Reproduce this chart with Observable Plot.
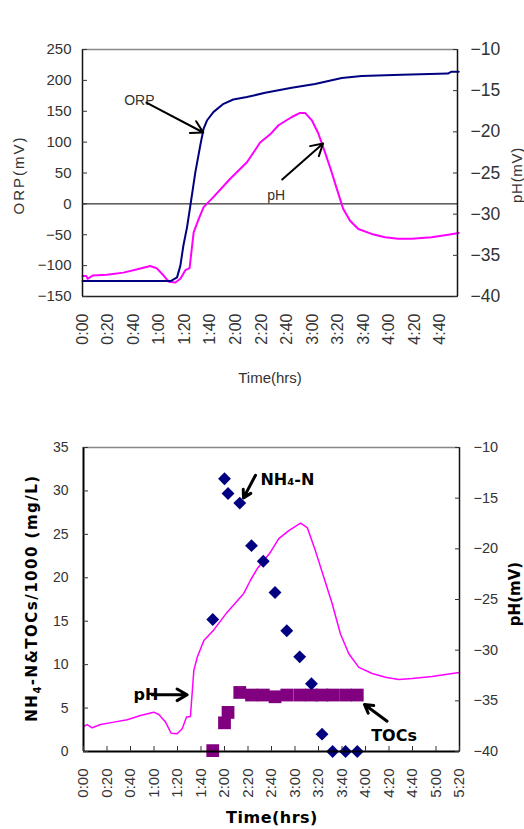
<!DOCTYPE html>
<html>
<head>
<meta charset="utf-8">
<script src="https://cdn.jsdelivr.net/npm/d3@7"></script>
<script src="https://cdn.jsdelivr.net/npm/@observablehq/plot@0.6"></script>
<style>
  body { margin: 0; background: white; }
  #wrap { position: relative; width: 524px; height: 829px; background: white; overflow: hidden; }
  .abs { position: absolute; white-space: nowrap; }
  .rot { transform: translate(-50%, -50%) rotate(-90deg); }
  .ctr { transform: translate(-50%, -50%); }
  .sans { font-family: "Liberation Sans", Arial, sans-serif; color: #333; }
  .bold { font-family: "DejaVu Sans", sans-serif; font-weight: bold; color: #000; }
</style>
</head>
<body>
<div id="wrap">
  <div class="abs sans" style="left:87px; top:4px; font-size:15px; color:#444;">Intial TOC conc : 6540mg/L</div>
  <div id="c1" class="abs" style="left:0; top:0;"></div>
  <div id="c2" class="abs" style="left:0; top:400px;"></div>
  <div class="abs sans rot" style="left:18px; top:175px; font-size:15px; letter-spacing:2px;">ORP(mV)</div>
  <div class="abs sans rot" style="left:516px; top:175px; font-size:15px; letter-spacing:0.7px;">pH(mV)</div>
  <div class="abs sans ctr" style="left:270px; top:377px; font-size:15px;">Time(hrs)</div>
  <div class="abs bold rot" style="left:33px; top:598px; font-size:15px; letter-spacing:1.5px;">NH<sub style="font-size:10px;">4</sub>-N&amp;TOCs/1000 (mg/L)</div>
  <div class="abs bold rot" style="left:515px; top:594px; font-size:15px;">pH(mV)</div>
  <div class="abs bold ctr" style="left:272px; top:817px; font-size:16px; letter-spacing:0.5px;">Time(hrs)</div>
</div>
<script>
// ---------- Top chart data ----------
const orpTime  = [0, 69, 74, 76.6, 79, 81.8, 84.4, 88.3, 92.2, 94.8, 97.4, 102.6, 110.4, 118, 128.7, 143, 163.8, 182, 202.9, 218.5, 249.8, 286, 288.8, 294.5];
const orpValue = [-125, -125, -119, -100, -67, -38, -3, 51, 95, 122, 135, 149, 162, 169, 173, 180, 188, 194, 204, 207, 209, 211, 214, 214];

const phTopTime  = [0, 3, 4, 8, 19, 32, 43, 53, 58, 63.5, 67.4, 72.7, 76.6, 80.5, 83.8, 87, 90.9, 94.8, 102.6, 115.6, 128.7, 139, 146.9, 153.4, 163.8, 170.3, 174.2, 179.5, 184.6, 189.8, 195, 199, 204, 209.4, 215.9, 226.3, 236.7, 247.1, 257.6, 273.2, 286.2, 294.5];
const phTopValue = [-37.5, -37.5, -37.85, -37.45, -37.36, -37.1, -36.7, -36.3, -36.56, -37.45, -38.2, -38.3, -37.85, -36.8, -36.56, -32.2, -30.6, -29.15, -27.9, -25.7, -23.7, -21.3, -20.3, -19.2, -18.2, -17.7, -17.7, -18.6, -20.2, -22.5, -24.9, -26.9, -29.35, -30.8, -31.8, -32.4, -32.8, -33, -33, -32.8, -32.5, -32.3];

const orpTicks = [-150, -100, -50, 0, 50, 100, 150, 200, 250];
const phTicks = [-40, -35, -30, -25, -20, -15, -10];
const topTimeTicks = [0, 20, 40, 60, 80, 100, 120, 140, 160, 180, 200, 220, 240, 260, 280];
const topTimeLabels = ["0:00", "0:20", "0:40", "1:00", "1:20", "1:40", "2:00", "2:20", "2:40", "3:00", "3:20", "3:40", "4:00", "4:20", "4:40"];

// ---------- Bottom chart data ----------
const sampleTime = [110, 120, 123, 133, 143, 153, 163, 173, 184, 194, 203, 212, 223, 233];
const nh4Value   = [15.2, 31.4, 29.7, 28.6, 23.7, 21.9, 18.3, 13.9, 10.9, 7.8, 2.0, 0, 0, 0];
const tocValue   = [0.1, 3.3, 4.5, 6.8, 6.5, 6.5, 6.3, 6.5, 6.5, 6.5, 6.5, 6.5, 6.5, 6.5];

const phBotTime  = [0, 3.1, 7.4, 14.5, 25.8, 37.2, 48.5, 59.8, 64.1, 69.8, 74.6, 79.7, 84, 87.7, 91, 93.9, 96.8, 102.4, 110.9, 122.3, 136.4, 142.1, 147.8, 159.1, 166.2, 174.7, 184.7, 190.4, 197.4, 204.5, 211.6, 218.7, 225.8, 234.3, 245.7, 257, 268.3, 279.7, 296.7, 308, 320];
const phBotValue = [-37.53, -37.34, -37.66, -37.34, -37.1, -36.87, -36.45, -36.12, -36.35, -37.1, -38.2, -38.25, -37.76, -36.6, -36.55, -32, -30.7, -29.05, -28, -26.25, -24.4, -23.1, -21.97, -20.33, -19, -18.2, -17.47, -17.9, -20.2, -22.8, -25.4, -28.4, -30.36, -31.7, -32.3, -32.67, -32.9, -32.8, -32.6, -32.4, -32.2];

const concTicks = [0, 5, 10, 15, 20, 25, 30, 35];
const botTimeTicks = [0, 20, 40, 60, 80, 100, 120, 140, 160, 180, 200, 220, 240, 260, 280, 300, 320];
const botTimeLabels = ["0:00", "0:20", "0:40", "1:00", "1:20", "1:40", "2:00", "2:20", "2:40", "3:00", "3:20", "3:40", "4:00", "4:20", "4:40", "5:00", "5:20"];

// ---------- Build tables ----------
const orp = orpTime.map((t, i) => ({t, v: orpValue[i]}));
const phTop = phTopTime.map((t, i) => ({t, v: phTopValue[i]}));
const phBot = phBotTime.map((t, i) => ({t, v: phBotValue[i]}));
const samples = sampleTime.map((t, i) => ({t, nh4: nh4Value[i], toc: tocValue[i]}));

const fmt = d3.format("d");
const topLabel = new Map(topTimeTicks.map((t, i) => [t, topTimeLabels[i]]));
const botLabel = new Map(botTimeTicks.map((t, i) => [t, botTimeLabels[i]]));

// ---------- Top chart ----------
const orpDomain = [-150, 250];
const phDomain = [-40, -10];
const phToOrp = d3.scaleLinear(phDomain, orpDomain);
const topX = [0, 293.5];

const chart1 = Plot.plot({
  width: 524, height: 360,
  marginTop: 49, marginBottom: 64, marginLeft: 82, marginRight: 67,
  x: {domain: topX},
  y: {domain: orpDomain},
  style: {fontFamily: "'Liberation Sans', Arial, sans-serif", fontSize: "15px", color: "#333", background: "white"},
  marks: [
    Plot.ruleY([0], {stroke: "black", strokeWidth: 1}),
    Plot.lineY(phTop, {x: "t", y: d => phToOrp(d.v), stroke: "#ff00ff", strokeWidth: 2}),
    Plot.lineY(orp, {x: "t", y: "v", stroke: "#000080", strokeWidth: 2}),
    Plot.ruleY([orpDomain[1]], {stroke: "#888", strokeWidth: 1.5}),
    Plot.ruleY([orpDomain[0]], {stroke: "#222", strokeWidth: 1.5}),
    Plot.ruleX([topX[0]], {stroke: "#111", strokeWidth: 1.5}),
    Plot.ruleX([topX[1]], {stroke: "#111", strokeWidth: 1.5}),
    Plot.axisY(orpTicks, {anchor: "left", tickSize: -5, tickPadding: 16, fontSize: 15, label: null, tickFormat: fmt}),
    Plot.axisY(phTicks, {anchor: "right", y: phToOrp, tickSize: -5, tickPadding: 18, fontSize: 17.5, label: null, tickFormat: fmt}),
    Plot.axisX(topTimeTicks, {anchor: "bottom", tickSize: 0, tickPadding: 17, tickRotate: -90, fontSize: 16, label: null, tickFormat: d => topLabel.get(d)}),
    Plot.text(["ORP"], {x: 44.5, y: 167, text: d => d, fontSize: 14, fill: "#333"}),
    Plot.arrow([0], {x1: 50, y1: 164, x2: 94.5, y2: 115.6, stroke: "black", strokeWidth: 2, headLength: 10}),
    Plot.text(["pH"], {x: 151.6, y: 13.6, text: d => d, fontSize: 14, fill: "#333"}),
    Plot.arrow([0], {x1: 156.3, y1: 39.5, x2: 188.3, y2: 97.8, stroke: "black", strokeWidth: 2, headLength: 10})
  ]
});
document.getElementById("c1").append(chart1);

// ---------- Bottom chart ----------
const concDomain = [0, 35];
const phToConc = d3.scaleLinear(phDomain, concDomain);
const botX = [0, 320];

const chart2 = Plot.plot({
  width: 524, height: 429,
  marginTop: 47, marginBottom: 78, marginLeft: 83, marginRight: 65,
  x: {domain: botX},
  y: {domain: concDomain},
  style: {fontFamily: "'Liberation Sans', Arial, sans-serif", fontSize: "14px", color: "#333", background: "white"},
  marks: [
    Plot.lineY(phBot, {x: "t", y: d => phToConc(d.v), stroke: "#ff00ff", strokeWidth: 1.5}),
    Plot.dot(samples, {x: "t", y: "toc", symbol: "square", r: 7.2, fill: "#800080", stroke: "none"}),
    Plot.dot(samples, {x: "t", y: "nh4", symbol: "diamond2", r: 5.8, fill: "#000080", stroke: "none"}),
    Plot.ruleY([concDomain[1]], {stroke: "#888", strokeWidth: 1.5}),
    Plot.ruleY([concDomain[0]], {stroke: "black", strokeWidth: 2}),
    Plot.ruleX([botX[0]], {stroke: "black", strokeWidth: 2}),
    Plot.ruleX([botX[1]], {stroke: "#111", strokeWidth: 1.5}),
    Plot.axisY(concTicks, {anchor: "left", tickSize: -5, tickPadding: 20, fontSize: 14, label: null, tickFormat: fmt}),
    Plot.axisY(phTicks, {anchor: "right", y: phToConc, tickSize: -5, tickPadding: 19, fontSize: 14.5, label: null, tickFormat: fmt}),
    Plot.axisX(botTimeTicks, {anchor: "bottom", tickSize: -5, tickPadding: 22, tickRotate: -90, fontSize: 15, label: null, tickFormat: d => botLabel.get(d)}),
    Plot.text(["NH₄-N"], {x: 150.6, y: 31.3, text: d => d, textAnchor: "start", fontSize: 16, fontWeight: "bold", fontFamily: "'DejaVu Sans', sans-serif", fill: "black"}),
    Plot.arrow([0], {x1: 146.4, y1: 31.8, x2: 136.2, y2: 29.2, stroke: "black", strokeWidth: 3, headLength: 9}),
    Plot.text(["pH"], {x: 42.6, y: 6.56, text: d => d, textAnchor: "start", fontSize: 16, fontWeight: "bold", fontFamily: "'DejaVu Sans', sans-serif", fill: "black"}),
    Plot.arrow([0], {x1: 58.5, y1: 6.53, x2: 88.2, y2: 6.53, stroke: "black", strokeWidth: 3, headLength: 9}),
    Plot.text(["TOCs"], {x: 244.8, y: 1.84, text: d => d, textAnchor: "start", fontSize: 16, fontWeight: "bold", fontFamily: "'DejaVu Sans', sans-serif", fill: "black"}),
    Plot.arrow([0], {x1: 258.4, y1: 3.49, x2: 239.1, y2: 5.41, stroke: "black", strokeWidth: 3, headLength: 9})
  ]
});
document.getElementById("c2").append(chart2);
</script>
</body>
</html>
